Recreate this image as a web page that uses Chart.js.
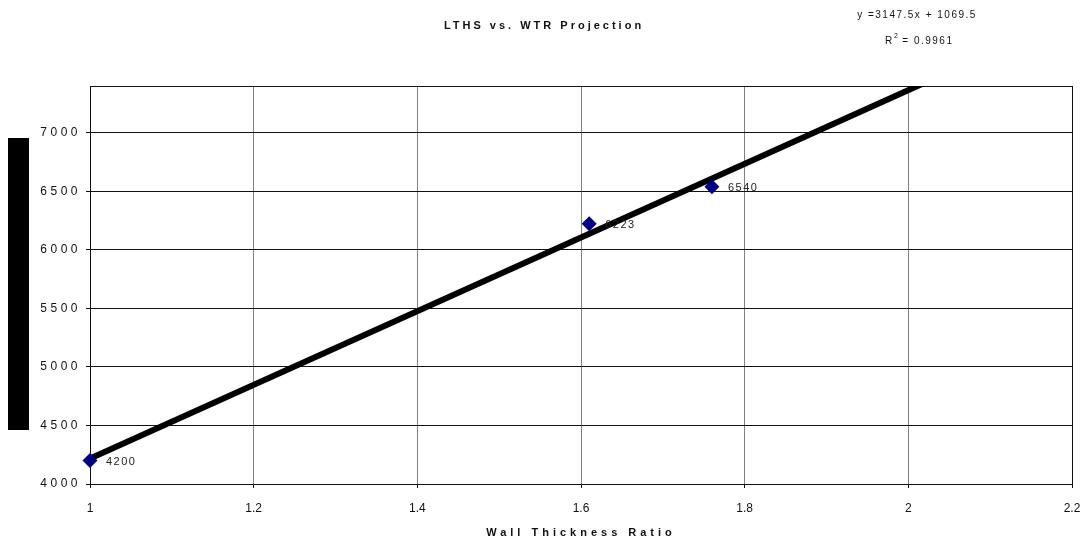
<!DOCTYPE html>
<html>
<head>
<meta charset="utf-8">
<script src="https://cdn.jsdelivr.net/npm/chart.js@4.4.1/dist/chart.umd.min.js"></script>
<style>
  html, body { margin: 0; padding: 0; background: #fff; }
  #wrap { width: 1087px; height: 545px; }
</style>
</head>
<body>
<div id="wrap"><canvas id="wtrChart" width="1087" height="545"></canvas></div>
<script>
// measured points (wall thickness ratio -> LTHS)
const ratios = [1, 1.61, 1.76];
const lths = [4200, 6223, 6540];
// linear trendline, read at the ends of the x range
const trendX = [1, 2.2];
const trendY = [4217, 7994];
const xTicks = [1, 1.2, 1.4, 1.6, 1.8, 2, 2.2];
const yTicks = [4000, 4500, 5000, 5500, 6000, 6500, 7000];
const chartTitle = 'LTHS vs. WTR Projection';
const xTitle = 'Wall Thickness Ratio';
const eqLine = 'y =3147.5x + 1069.5';
const r2Line = '0.9961';

const font = 'Liberation Sans, Arial, sans-serif';

const extras = {
    id: 'extras',
    afterLayout(chart) {
        // y tick labels are letter spaced in the original
        const y = chart.scales.y;
        if (!y._spaced) {
            const orig = y.drawLabels.bind(y);
            y.drawLabels = (area) => {
                chart.ctx.save();
                chart.ctx.letterSpacing = '3.5px';
                orig(area);
                chart.ctx.restore();
            };
            y._spaced = true;
        }
    },
    beforeDatasetsDraw(chart) {
        const { ctx, chartArea } = chart;
        ctx.save();
        ctx.strokeStyle = '#111';
        ctx.lineWidth = 1;
        ctx.strokeRect(Math.round(chartArea.left) + 0.5, Math.round(chartArea.top) + 0.5,
            Math.round(chartArea.right - chartArea.left), Math.round(chartArea.bottom - chartArea.top));
        ctx.restore();
    },
    afterDraw(chart) {
        const { ctx, chartArea } = chart;
        ctx.save();
        ctx.fillStyle = '#000';
        // blacked-out y axis title block
        ctx.fillRect(8, 138, 21, 292);

        ctx.textAlign = 'center';
        ctx.textBaseline = 'middle';
        ctx.fillStyle = '#111';
        ctx.font = 'bold 11px ' + font;
        ctx.letterSpacing = '3px';
        ctx.fillText(chartTitle, 544, 26);
        ctx.letterSpacing = '4px';
        ctx.fillText(xTitle, (chartArea.left + chartArea.right) / 2, 533);

        ctx.letterSpacing = '1.5px';
        ctx.font = '10px ' + font;
        ctx.fillText(eqLine, 917, 15);
        ctx.textAlign = 'left';
        ctx.fillText('R', 885, 41);
        ctx.font = '7px ' + font;
        ctx.fillText('2', 894, 36);
        ctx.font = '10px ' + font;
        ctx.fillText(' = ' + r2Line, 898, 41);

        // data labels
        const meta = chart.getDatasetMeta(1);
        ctx.font = '11px ' + font;
        ctx.letterSpacing = '1.5px';
        ctx.fillStyle = '#222';
        meta.data.forEach((pt, i) => {
            ctx.fillText(String(lths[i]), pt.x + 16, pt.y + 1);
        });
        ctx.restore();
    }
};

const ctx = document.getElementById('wtrChart').getContext('2d');
new Chart(ctx, {
    type: 'scatter',
    data: {
        datasets: [{
            label: 'Trend',
            data: trendX.map((x, i) => ({ x: x, y: trendY[i] })),
            showLine: true,
            borderColor: '#000',
            borderWidth: 6,
            pointRadius: 0,
            fill: false,
            order: 1
        }, {
            label: 'LTHS',
            data: ratios.map((x, i) => ({ x: x, y: lths[i] })),
            pointStyle: 'rectRot',
            pointRadius: 7.5,
            backgroundColor: '#000080',
            borderColor: '#000080',
            borderWidth: 0,
            clip: false,
            order: 0
        }]
    },
    options: {
        responsive: false,
        animation: false,
        layout: { padding: { left: 0, right: 15, top: 86, bottom: 0 } },
        plugins: {
            legend: { display: false },
            tooltip: { enabled: false },
            title: { display: false }
        },
        scales: {
            x: {
                type: 'linear',
                min: 1,
                max: 2.2,
                afterBuildTicks: (scale) => { scale.ticks = xTicks.map(v => ({ value: v })); },
                afterFit: (scale) => {
                    scale.height = 61;
                    scale.paddingLeft = 0;
                    scale.paddingRight = 0;
                },
                grid: { color: '#808080', lineWidth: 1, drawTicks: true, tickLength: 4, tickColor: '#111' },
                border: { display: true, color: '#111', width: 1 },
                ticks: {
                    padding: 13,
                    color: '#111',
                    font: { family: font, size: 12 },
                    maxRotation: 0,
                    callback: (v) => String(v)
                }
            },
            y: {
                type: 'linear',
                min: 4000,
                max: 7400,
                afterBuildTicks: (scale) => { scale.ticks = yTicks.map(v => ({ value: v })); },
                afterFit: (scale) => {
                    scale.width = 90;
                    scale.paddingTop = 0;
                    scale.paddingBottom = 0;
                },
                grid: { color: '#111', lineWidth: 1, drawTicks: true, tickLength: 4, tickColor: '#111' },
                border: { display: true, color: '#111', width: 1 },
                ticks: {
                    padding: 5,
                    color: '#111',
                    font: { family: font, size: 12 },
                    callback: (v) => String(v)
                }
            }
        }
    },
    plugins: [extras]
});
</script>
</body>
</html>
